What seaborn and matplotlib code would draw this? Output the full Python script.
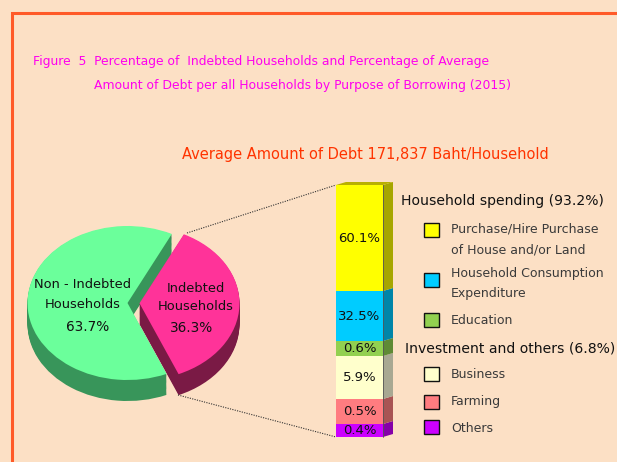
import numpy as np
import matplotlib
matplotlib.use("Agg")
import matplotlib.pyplot as plt
import seaborn as sns
from matplotlib.patches import Polygon, Rectangle

# pie: share of households
pie_labels = ["Indebted\nHouseholds", "Non - Indebted\nHouseholds"]
pie_values = [36.3, 63.7]

# stacked bar: purpose of borrowing (top to bottom)
purposes = ["Purchase/Hire Purchase\nof House and/or Land",
            "Household Consumption\nExpenditure",
            "Education", "Business", "Farming", "Others"]
purpose_pct = [60.1, 32.5, 0.6, 5.9, 0.5, 0.4]
# segment heights as drawn in the picture (not to scale)
segment_size = [106, 50, 15, 43, 25, 13]
group_names = ["Household spending (93.2%)", "Investment and others (6.8%)"]

title_lines = ["Figure  5  Percentage of  Indebted Households and Percentage of Average",
               "Amount of Debt per all Households by Purpose of Borrowing (2015)"]
subtitle = "Average Amount of Debt 171,837 Baht/Household"

front_cols = ["#FFFF00", "#00CCFF", "#92D050", "#FFFFCC", "#FF7C80", "#CC00FF"]
side_cols = ["#A6A600", "#0085A8", "#5F8A35", "#A8A892", "#A85454", "#8500A8"]
pie_top = ["#FF3399", "#6BFF9B"]
pie_side = ["#7A1A45", "#38955A"]

sns.set_theme(style="white")
plt.rcParams['font.family'] = ['DejaVu Sans']

W, H = 617, 462
bg = "#FCE0C5"
fig = plt.figure(figsize=(W / 100, H / 100), dpi=100, facecolor=bg)


def rect(l, t, w, h):
    return [l / W, 1 - (t + h) / H, w / W, h / H]


def lines_text(ax, x, ys, label, **kw):
    for y, part in zip(ys, label.split("\n")):
        ax.text(x, y, part, va="center", **kw)


# ---- pie (fake 3D by stacking shifted pies) ----
cx, cy, rx, ry = 127.5, 303, 100, 77
ax_pie = fig.add_axes(rect(cx - 1.3 * rx, cy - 1.3 * ry, 2.6 * rx, 2.6 * ry))
depth = 21 / ry
for d in np.linspace(depth, 0.01, 18):
    ax_pie.pie(pie_values, colors=pie_side, startangle=-67, explode=[0.12, 0],
               center=(0, -d), wedgeprops=dict(linewidth=0))
ax_pie.pie(pie_values, colors=pie_top, startangle=-67, explode=[0.12, 0],
           wedgeprops=dict(linewidth=0))
ax_pie.set_aspect('auto')
ax_pie.set_xlim(-1.3, 1.3)
ax_pie.set_ylim(-1.3, 1.3)
ax_pie.axis("off")

# ---- stacked bar ----
ax_bar = fig.add_axes(rect(330.1, 185, 67.6, 252))
sizes_bu = segment_size[::-1]
front_bu = front_cols[::-1]
side_bu = side_cols[::-1]
pct_bu = purpose_pct[::-1]
tops = np.cumsum(sizes_bu)
bottoms = tops - np.array(sizes_bu)
for k in range(len(tops) - 1, -1, -1):
    sns.barplot(x=["a"], y=[tops[k]], color=front_bu[k], saturation=1,
                width=0.8, ax=ax_bar, linewidth=0)
sk = 3
for b, t, c in zip(bottoms, tops, side_bu):
    ax_bar.add_patch(Polygon([(0.4, b), (0.57, b + sk), (0.57, t + sk), (0.4, t)],
                             closed=True, facecolor=c, edgecolor="none", clip_on=False))
T = tops[-1]
ax_bar.add_patch(Polygon([(-0.4, T), (0.4, T), (0.57, T + sk), (-0.23, T + sk)],
                         closed=True, facecolor="#B8B000", edgecolor="none", clip_on=False))
ax_bar.plot([0.4, 0.4], [0, T], color="#555555", lw=0.6, clip_on=False)
for b, s, p in zip(bottoms, sizes_bu, pct_bu):
    ax_bar.text(0, b + s / 2, f"{p}%", ha="center", va="center", fontsize=9.5,
                color="#111111", clip_on=False)
ax_bar.set_xlim(-0.5, 0.65)
ax_bar.set_ylim(0, T)
ax_bar.axis("off")

# ---- overlay in pixel coordinates ----
ax0 = fig.add_axes([0, 0, 1, 1], zorder=5)
ax0.set_xlim(0, W)
ax0.set_ylim(H, 0)
ax0.axis("off")
ax0.plot([12, 12, W], [H, 13, 13], color="#FF5A28", lw=2.2, solid_joinstyle="miter")

ax0.text(33, 61, title_lines[0], color="#FF00EE", fontsize=8.9, ha="left", va="center")
ax0.text(94, 85, title_lines[1], color="#FF00EE", fontsize=8.9, ha="left", va="center")
ax0.text(182, 155, subtitle, color="#FF3300", fontsize=10.5, ha="left", va="center")

# pie labels
dark = "#111111"
lines_text(ax0, 83, [284, 304], pie_labels[1], ha="center", fontsize=9.4, color=dark)
ax0.text(88, 327, f"{pie_values[1]}%", ha="center", va="center", fontsize=9.8, color=dark)
lines_text(ax0, 196, [288, 307], pie_labels[0], ha="center", fontsize=9.4, color=dark)
ax0.text(191.5, 328, f"{pie_values[0]}%", ha="center", va="center", fontsize=9.8, color=dark)

# connector lines
ax0.plot([187, 336], [233, 185], color="#333333", lw=0.8, ls=(0, (1, 1.2)))
ax0.plot([178, 336], [395, 437], color="#333333", lw=0.8, ls=(0, (1, 1.2)))

# legend
ax0.text(401, 201, group_names[0], ha="left", va="center", fontsize=10.1, color=dark)
ax0.text(405, 349, group_names[1], ha="left", va="center", fontsize=10.1, color=dark)
box_y = [230, 279.5, 320, 374, 402, 427]
text_y = [[229, 250], [274, 294], [320], [374], [402], [428]]
for name, c, by, ty in zip(purposes, front_cols, box_y, text_y):
    ax0.add_patch(Rectangle((424, by - 7), 15, 14, facecolor=c, edgecolor=dark, lw=1))
    lines_text(ax0, 451, ty, name, ha="left", fontsize=9.0, color="#3A3A3A")

fig.savefig("out.png", dpi=100, facecolor=bg)
